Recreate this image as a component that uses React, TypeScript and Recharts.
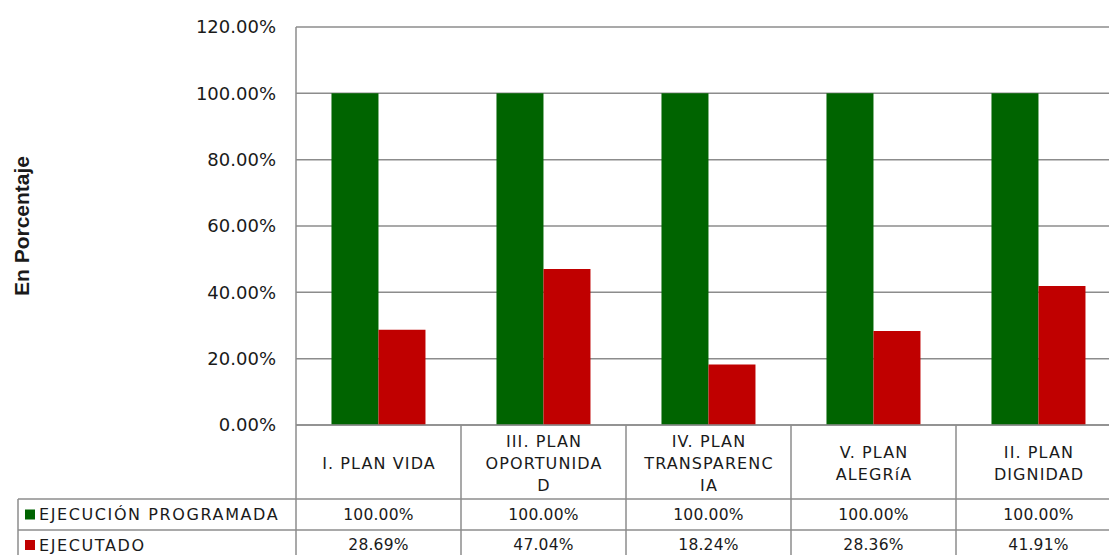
import React from 'react';
import { BarChart, Bar, XAxis, YAxis, CartesianGrid } from 'recharts';

const categories = [
  'I. PLAN VIDA',
  'III. PLAN OPORTUNIDAD',
  'IV. PLAN TRANSPARENCIA',
  'V. PLAN ALEGRíA',
  'II. PLAN DIGNIDAD',
];
const categoryLines = [
  ['I. PLAN VIDA'],
  ['III. PLAN', 'OPORTUNIDA', 'D'],
  ['IV. PLAN', 'TRANSPARENC', 'IA'],
  ['V. PLAN', 'ALEGRíA'],
  ['II. PLAN', 'DIGNIDAD'],
];
const programada = [100.0, 100.0, 100.0, 100.0, 100.0];
const ejecutado = [28.69, 47.04, 18.24, 28.36, 41.91];
const yTicks = [0, 20, 40, 60, 80, 100, 120];
const seriesNames = ['EJECUCIÓN PROGRAMADA', 'EJECUTADO'];
const seriesColors = ['#006400', '#C00000'];

const data = categories.map((c, i) => ({
  name: c,
  programada: programada[i],
  ejecutado: ejecutado[i],
}));

const CHART_W = 1121;
const CHART_H = 555;
const YAXIS_W = 296;
const XAXIS_H = 130;
const TOP = 27;
const COL_W = (CHART_W - YAXIS_W) / categories.length;
const LINE = '#8c8c8c';
const TXT = '#1a1a1a';
const FONT = "'DejaVu Sans', sans-serif";
const fmt = (v: number) => v.toFixed(2) + '%';

const capsStyle = { fontSize: 16, fontFamily: FONT, fill: TXT, letterSpacing: 1.1 } as const;
const legendStyle = { fontSize: 16, fontFamily: FONT, fill: TXT, letterSpacing: 1.6 } as const;
const numStyle = { fontSize: 15.5, fontFamily: FONT, fill: TXT, letterSpacing: 0.2 } as const;

const TableTick = (props: any) => {
  const { x, y, payload, index } = props;
  const i = typeof index === 'number' ? index : categories.indexOf(payload.value);
  const left = x - COL_W / 2;
  const right = x + COL_W / 2;
  const row1 = y + 74;
  const row2 = y + 105;
  const bottom = y + 140;
  const lines = categoryLines[i] || [payload.value];
  const lh = 22;
  const cy = y + 38;
  const legendLeft = 18;
  return (
    <g>
      <line x1={left} y1={y} x2={left} y2={bottom} stroke={LINE} strokeWidth={1.5} />
      {i === categories.length - 1 && (
        <line x1={right} y1={y} x2={right} y2={bottom} stroke={LINE} strokeWidth={1.5} />
      )}
      <line x1={left} y1={row1} x2={right} y2={row1} stroke={LINE} strokeWidth={1.5} />
      <line x1={left} y1={row2} x2={right} y2={row2} stroke={LINE} strokeWidth={1.5} />
      {lines.map((l, k) => (
        <text
          key={k}
          x={x + 0.5}
          y={cy + (k - (lines.length - 1) / 2) * lh}
          textAnchor="middle"
          dominantBaseline="central"
          style={capsStyle}
        >
          {l}
        </text>
      ))}
      <text x={x} y={(row1 + row2) / 2} textAnchor="middle" dominantBaseline="central" style={numStyle}>
        {fmt(programada[i])}
      </text>
      <text x={x} y={row2 + 15} textAnchor="middle" dominantBaseline="central" style={numStyle}>
        {fmt(ejecutado[i])}
      </text>
      {i === 0 && (
        <g>
          <line x1={legendLeft} y1={row1} x2={left} y2={row1} stroke={LINE} strokeWidth={1.5} />
          <line x1={legendLeft} y1={row2} x2={left} y2={row2} stroke={LINE} strokeWidth={1.5} />
          <line x1={legendLeft} y1={row1} x2={legendLeft} y2={bottom} stroke={LINE} strokeWidth={1.5} />
          <rect x={legendLeft + 7} y={(row1 + row2) / 2 - 5} width={10} height={10} fill={seriesColors[0]} />
          <text x={legendLeft + 21} y={(row1 + row2) / 2} dominantBaseline="central" style={legendStyle}>
            {seriesNames[0]}
          </text>
          <rect x={legendLeft + 7} y={row2 + 15 - 5} width={10} height={10} fill={seriesColors[1]} />
          <text x={legendLeft + 21} y={row2 + 15} dominantBaseline="central" style={legendStyle}>
            {seriesNames[1]}
          </text>
        </g>
      )}
    </g>
  );
};

const YLabel = (props: any) => {
  const vb = props.viewBox || { x: 0, y: TOP, width: YAXIS_W, height: CHART_H - TOP - XAXIS_H };
  const x = vb.x + 21;
  const y = vb.y + vb.height / 2;
  return (
    <text
      x={x}
      y={y}
      transform={`rotate(-90, ${x}, ${y})`}
      textAnchor="middle"
      dominantBaseline="central"
      fontSize={21}
      fontWeight="bold"
      fontFamily="'Liberation Sans', Arial, sans-serif"
      fill={TXT}
    >
      En Porcentaje
    </text>
  );
};

export default function App() {
  return (
    <div style={{ position: 'absolute', left: 0, top: 0, width: 1109, height: 555, overflow: 'hidden', background: '#fff' }}>
      <BarChart
        width={CHART_W}
        height={CHART_H}
        data={data}
        margin={{ top: TOP, right: 0, bottom: 0, left: 0 }}
        barCategoryGap="21.5%"
        barGap={0}
      >
        <CartesianGrid vertical={false} stroke={LINE} strokeWidth={1.5} />
        <XAxis
          dataKey="name"
          height={XAXIS_H}
          tickSize={0}
          tickMargin={0}
          interval={0}
          axisLine={{ stroke: LINE, strokeWidth: 1.5 }}
          tick={<TableTick />}
        />
        <YAxis
          width={YAXIS_W}
          domain={[0, 120]}
          ticks={yTicks}
          tickFormatter={fmt}
          tickSize={0}
          tickMargin={20}
          axisLine={{ stroke: LINE, strokeWidth: 1.5 }}
          tick={{ fontSize: 18, fontFamily: FONT, fill: TXT }}
          label={<YLabel />}
        />
        <Bar dataKey="programada" name={seriesNames[0]} fill={seriesColors[0]} isAnimationActive={false} />
        <Bar dataKey="ejecutado" name={seriesNames[1]} fill={seriesColors[1]} isAnimationActive={false} />
      </BarChart>
    </div>
  );
}
